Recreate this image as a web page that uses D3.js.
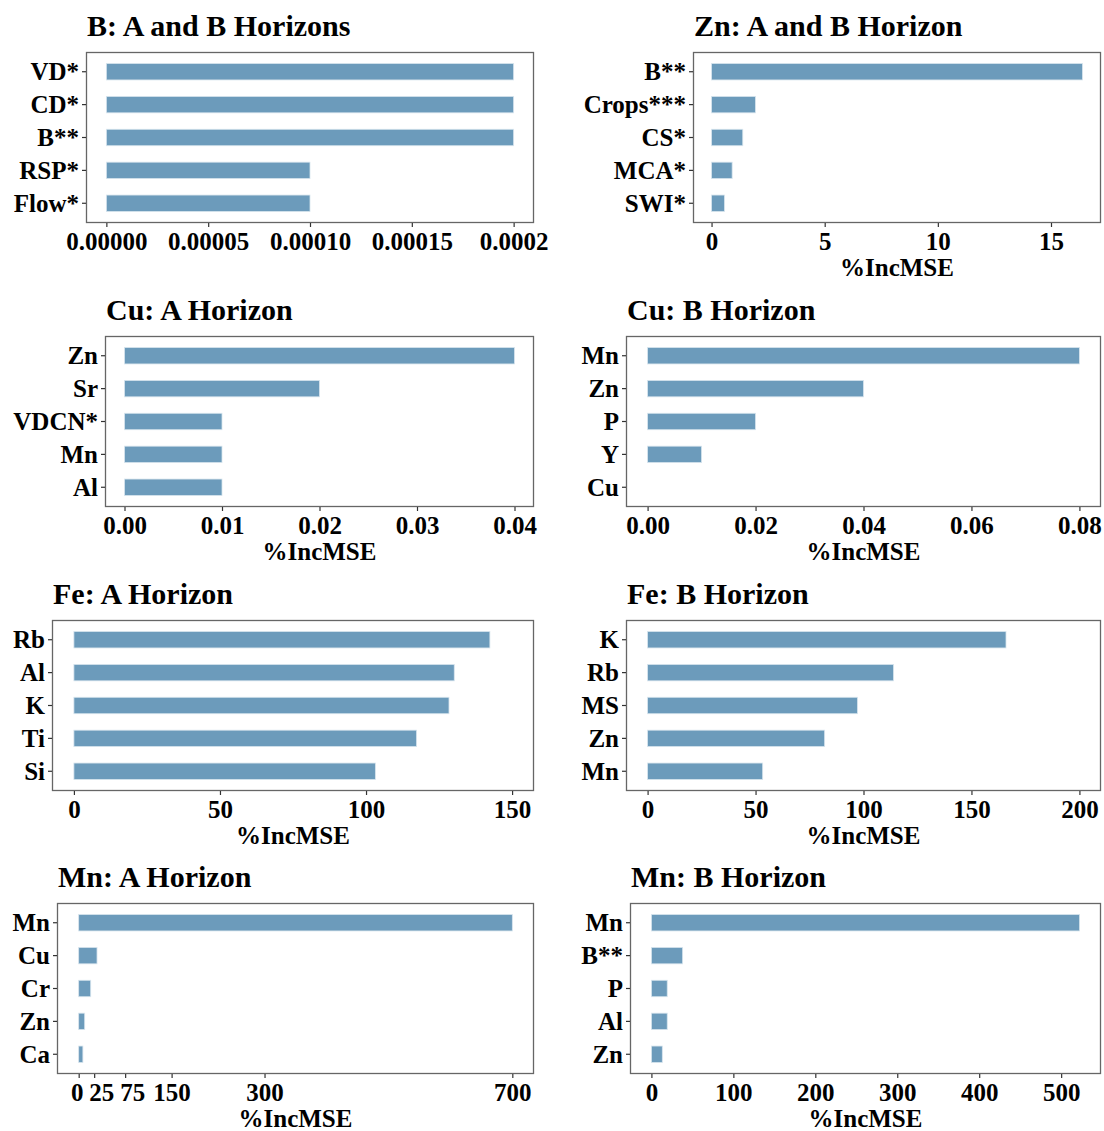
<!DOCTYPE html>
<html>
<head>
<meta charset="utf-8">
<script src="https://cdn.jsdelivr.net/npm/d3@7"></script>
<style>
  html, body { margin: 0; padding: 0; background: #fff; }
  svg { display: block; }
  text { font-family: "Liberation Serif", "Times New Roman", serif; font-weight: bold; fill: #000; }
</style>
</head>
<body>
<svg id="chart" width="1104" height="1131"></svg>
<script>
// Variable importance (%IncMSE) from random forest models, one panel per element/horizon.

// B: A and B Horizons
const bLabels = ["VD*", "CD*", "B**", "RSP*", "Flow*"];
const bValues = [0.0002, 0.0002, 0.0002, 0.0001, 0.0001];
const bTicks = [0, 0.00005, 0.0001, 0.00015, 0.0002];
const bTickLabels = ["0.00000", "0.00005", "0.00010", "0.00015", "0.0002"];

// Zn: A and B Horizon
const znLabels = ["B**", "Crops***", "CS*", "MCA*", "SWI*"];
const znValues = [16.39, 1.94, 1.38, 0.91, 0.57];
const znTicks = [0, 5, 10, 15];
const znTickLabels = ["0", "5", "10", "15"];

// Cu: A Horizon
const cuALabels = ["Zn", "Sr", "VDCN*", "Mn", "Al"];
const cuAValues = [0.04, 0.02, 0.01, 0.01, 0.01];
const cuATicks = [0, 0.01, 0.02, 0.03, 0.04];
const cuATickLabels = ["0.00", "0.01", "0.02", "0.03", "0.04"];

// Cu: B Horizon
const cuBLabels = ["Mn", "Zn", "P", "Y", "Cu"];
const cuBValues = [0.08, 0.04, 0.02, 0.01, 0];
const cuBTicks = [0, 0.02, 0.04, 0.06, 0.08];
const cuBTickLabels = ["0.00", "0.02", "0.04", "0.06", "0.08"];

// Fe: A Horizon
const feALabels = ["Rb", "Al", "K", "Ti", "Si"];
const feAValues = [142.4, 130.2, 128.4, 117.3, 103.2];
const feATicks = [0, 50, 100, 150];
const feATickLabels = ["0", "50", "100", "150"];

// Fe: B Horizon
const feBLabels = ["K", "Rb", "MS", "Zn", "Mn"];
const feBValues = [166.0, 113.9, 97.2, 82.0, 53.3];
const feBTicks = [0, 50, 100, 150, 200];
const feBTickLabels = ["0", "50", "100", "150", "200"];

// Mn: A Horizon
const mnALabels = ["Mn", "Cu", "Cr", "Zn", "Ca"];
const mnAValues = [700, 29.6, 19.4, 9.7, 6.8];
const mnATicks = [0, 25, 75, 150, 300, 700];
const mnATickLabels = ["0", "25", "75", "150", "300", "700"];

// Mn: B Horizon
const mnBLabels = ["Mn", "B**", "P", "Al", "Zn"];
const mnBValues = [522.5, 38.1, 19.3, 19.3, 13.3];
const mnBTicks = [0, 100, 200, 300, 400, 500];
const mnBTickLabels = ["0", "100", "200", "300", "400", "500"];

const axisTitle = "%IncMSE";

// Panel layout: plot-box edges, upper end of each value axis, and small
// horizontal nudges for crowded tick labels.
const panels = [
  { title: "B: A and B Horizons", labels: bLabels, values: bValues, ticks: bTicks, tickLabels: bTickLabels,
    xMax: 0.0002, left: 86, right: 534, top: 52, xTitle: false },
  { title: "Zn: A and B Horizon", labels: znLabels, values: znValues, ticks: znTicks, tickLabels: znTickLabels,
    xMax: null, left: 693, right: 1101, top: 52, xTitle: true },
  { title: "Cu: A Horizon", labels: cuALabels, values: cuAValues, ticks: cuATicks, tickLabels: cuATickLabels,
    xMax: 0.04, left: 105, right: 534, top: 336, xTitle: true },
  { title: "Cu: B Horizon", labels: cuBLabels, values: cuBValues, ticks: cuBTicks, tickLabels: cuBTickLabels,
    xMax: 0.08, left: 626, right: 1101, top: 336, xTitle: true },
  { title: "Fe: A Horizon", labels: feALabels, values: feAValues, ticks: feATicks, tickLabels: feATickLabels,
    xMax: 150, left: 52, right: 534, top: 620, xTitle: true },
  { title: "Fe: B Horizon", labels: feBLabels, values: feBValues, ticks: feBTicks, tickLabels: feBTickLabels,
    xMax: 200, left: 626, right: 1101, top: 620, xTitle: true },
  { title: "Mn: A Horizon", labels: mnALabels, values: mnAValues, ticks: mnATicks, tickLabels: mnATickLabels,
    xMax: 700, left: 57, right: 534, top: 903, xTitle: true, nudge: [-2, 7, 7, 0, 0, 0] },
  { title: "Mn: B Horizon", labels: mnBLabels, values: mnBValues, ticks: mnBTicks, tickLabels: mnBTickLabels,
    xMax: null, left: 630, right: 1101, top: 903, xTitle: true }
];

const boxHeight = 171;
const barFill = "#6c9bbb";
const barEdge = "#d8e5ee";
const frameColor = "#666666";
const tickColor = "#333333";

const svg = d3.select("#chart");

panels.forEach(p => {
  const bottom = p.top + boxHeight;
  const hi = p.xMax != null ? p.xMax : d3.max(p.values);
  const pad = 0.05 * hi;

  const x = d3.scaleLinear().domain([-pad, hi + pad]).range([p.left, p.right]);
  const y = d3.scaleBand().domain(p.labels).range([p.top, bottom])
    .paddingInner(0.5).paddingOuter(0.35);

  const g = svg.append("g");

  // bars
  g.selectAll("rect.bar")
    .data(p.labels.map((l, i) => ({ label: l, value: p.values[i] })).filter(d => d.value > 0))
    .join("rect")
    .attr("class", "bar")
    .attr("x", x(0))
    .attr("y", d => y(d.label))
    .attr("width", d => x(d.value) - x(0))
    .attr("height", y.bandwidth())
    .attr("fill", barFill)
    .attr("stroke", barEdge)
    .attr("stroke-width", 0.8);

  // plot frame
  g.append("rect")
    .attr("x", p.left + 0.5).attr("y", p.top + 0.5)
    .attr("width", p.right - p.left - 1).attr("height", boxHeight - 1)
    .attr("fill", "none").attr("stroke", frameColor).attr("stroke-width", 1.3);

  // y axis (categories)
  const yAxis = d3.axisLeft(y).tickSize(4).tickPadding(3);
  const ya = g.append("g").attr("transform", `translate(${p.left},0)`).call(yAxis);
  ya.select(".domain").remove();
  ya.selectAll(".tick line").attr("stroke", tickColor).attr("stroke-width", 1.2);
  ya.selectAll(".tick text")
    .attr("font-size", 25)
    .attr("font-family", null)
    .attr("fill", null)
    .attr("dy", "0.34em");

  // x axis (importance)
  const xAxis = d3.axisBottom(x).tickValues(p.ticks)
    .tickFormat((d, i) => p.tickLabels[i]).tickSize(4).tickPadding(4);
  const xa = g.append("g").attr("transform", `translate(0,${bottom})`).call(xAxis);
  xa.select(".domain").remove();
  xa.selectAll(".tick line").attr("stroke", tickColor).attr("stroke-width", 1.2);
  xa.selectAll(".tick text")
    .attr("font-size", 25)
    .attr("font-family", null)
    .attr("fill", null)
    .attr("dy", "0.74em")
    .attr("dx", (d, i) => (p.nudge ? p.nudge[i] : 0));

  // panel title
  g.append("text")
    .attr("x", p.left + 1)
    .attr("y", p.top - 16)
    .attr("font-size", 30)
    .text(p.title);

  // x axis title
  if (p.xTitle) {
    g.append("text")
      .attr("x", (p.left + p.right) / 2)
      .attr("y", bottom + 53)
      .attr("text-anchor", "middle")
      .attr("font-size", 25)
      .text(axisTitle);
  }
});
</script>
</body>
</html>
